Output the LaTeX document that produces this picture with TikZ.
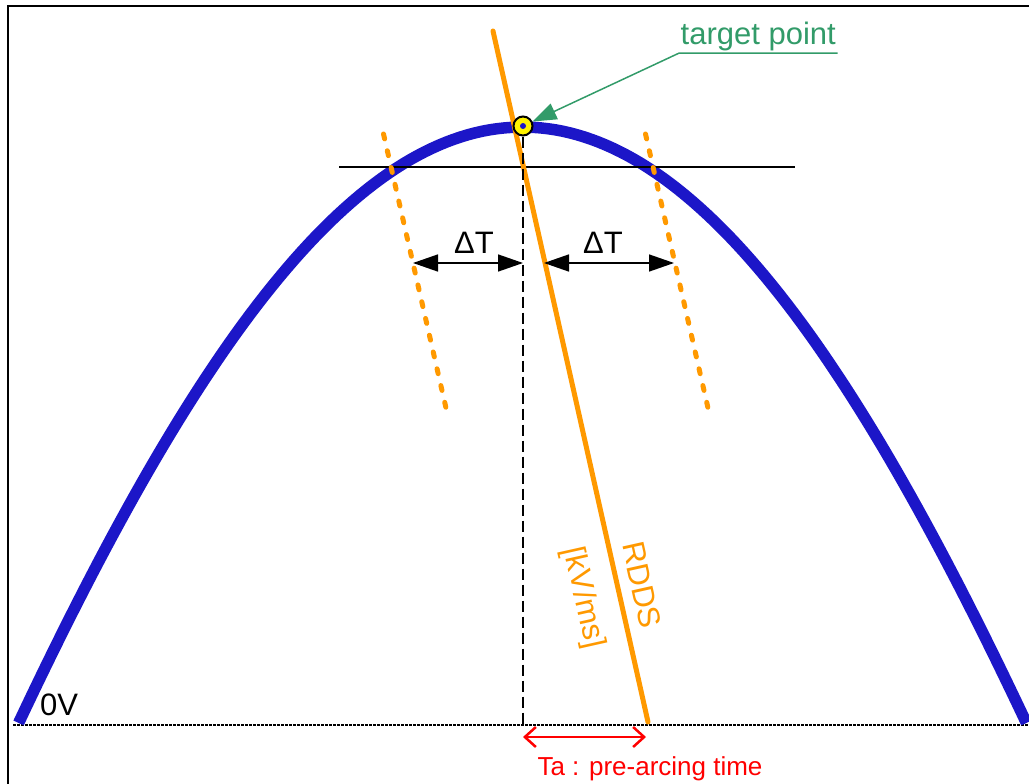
\documentclass[tikz,border=0pt]{standalone}
\usepackage{fontspec}
\setmainfont{Liberation Sans}
\usepackage{tikz}
\usetikzlibrary{arrows.meta, positioning, calc}
\definecolor{myblue}{RGB}{28,22,200}
\definecolor{myorange}{RGB}{255,153,0}
\definecolor{mygreen}{RGB}{50,155,105}
\definecolor{myred}{RGB}{255,0,0}
\tikzset{
  wave/.style={line width=11.5pt, color=myblue},
  rdds/.style={line width=5pt, color=myorange, line cap=round},
  limitline/.style={line width=5pt, color=myorange, line cap=round,
    dash pattern=on 5pt off 12.2pt},
  dimarrow/.style={{Triangle[length=25pt,width=17pt]}-{Triangle[length=25pt,width=17pt]},
    line width=1.5pt, color=black},
  redarrow/.style={{Straight Barb[length=11pt,width=20pt]}-{Straight Barb[length=11pt,width=20pt]},
    line width=2.5pt, color=myred},
  greenarrow/.style={-{Triangle[length=24pt,width=17pt]}, line width=1.5pt, color=mygreen},
  line/.style={line width=1.5pt, color=black},
  frameline/.style={line width=2.5pt, color=black},
  dashline/.style={line width=1.5pt, color=black, dash pattern=on 11pt off 5pt},
  zeroline/.style={line width=2pt, color=black, dash pattern=on 2.5pt off 1.5pt},
  targetnode/.style={circle, draw=black, fill=yellow, line width=2pt,
    minimum size=19pt, inner sep=0pt},
  bigtext/.style={font=\fontsize{31}{37}\selectfont, inner sep=0pt},
  greentext/.style={font=\fontsize{31}{37}\selectfont, text=mygreen, inner sep=1.5pt},
  redtext/.style={font=\fontsize{26}{31}\selectfont, text=myred, inner sep=0pt},
  orangetext/.style={font=\fontsize{31}{37}\selectfont, text=myorange, inner sep=0pt,
    rotate=-77.4}
}

\begin{document}
\begin{tikzpicture}[x=1pt, y=-1pt]
  \useasboundingbox (0,0) rectangle (1029,784);

  % Frame
  \draw[frameline] (8,790) -- (8,6) -- (1035,6);

  % Wave and 0V line
  \draw[zeroline] (13,725) -- (1029,725);
  \draw[wave] plot[domain=18.6:1026.4, samples=140]
    (\x, {1211-1084*cos(0.1255*(\x-522.5))});
  \node[bigtext, anchor=base west] (zero) at (40,715) {0V};

  % Level line
  \coordinate (hl) at (339,167);
  \coordinate (hr) at (795,167);
  \draw[line] (hl) -- (hr);

  % RDDS line and limits
  \coordinate (rtop) at (493,31);
  \coordinate (rbot) at (648,722);
  \draw[rdds] (rtop) -- (rbot);
  \draw[limitline] (383.5,134) -- (446,408);
  \draw[limitline] (645.5,134) -- (708,408);
  \node[orangetext] (rddslabel) at (642,585) {RDDS};
  \node[orangetext] (unitlabel) at (583,598) {[kV/ms]};

  % Target point
  \node[targetnode] (target) at (523,126) {};
  \fill[myblue] (target.center) circle (3pt);
  \coordinate (vbot) at (523,725);
  \draw[dashline] (target.south) -- (vbot);
  \node[greentext, anchor=base west] (tplabel) at (679,45) {target point};
  \draw[greenarrow] (tplabel.south east) -- (tplabel.south west) -- (target);

  % Delta T
  \coordinate (dl) at (413,263);
  \coordinate (dm) at (523,263);
  \coordinate (dn) at (544,263);
  \coordinate (dr) at (674,263);
  \draw[dimarrow] (dl) -- node[bigtext, anchor=base, yshift=10pt, xshift=6pt] (dtl) {ΔT} (dm);
  \draw[dimarrow] (dn) -- node[bigtext, anchor=base, yshift=10pt, xshift=-6pt] (dtr) {ΔT} (dr);

  % Pre-arcing time
  \coordinate (tal) at (523,737);
  \coordinate (tar) at (646,737);
  \draw[redarrow] (tal) -- (tar);
  \node[redtext, anchor=base] (talabel) at (650,775) {Ta : pre-arcing time};
\end{tikzpicture}
\end{document}
